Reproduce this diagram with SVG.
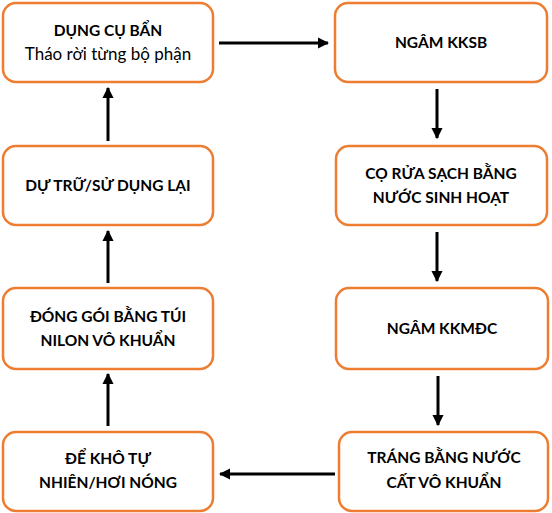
<svg xmlns="http://www.w3.org/2000/svg" width="552" height="513" viewBox="0 0 552 513">
<defs>
<marker id="ah" viewBox="0 0 10 10" refX="9" refY="5" markerWidth="3.8" markerHeight="3.8" markerUnits="strokeWidth" orient="auto">
<path d="M0,0 L10,5 L0,10 z" fill="#000"/>
</marker>
<style>
.box{fill:#fff;stroke:#ED7D31;stroke-width:2.5}
.t{font-family:Lato,"Open Sans","Liberation Sans",sans-serif;font-size:15.5px;font-weight:bold;fill:#000;text-anchor:middle}
.n{font-family:Lato,"Open Sans","Liberation Sans",sans-serif;font-size:17px;fill:#000;text-anchor:middle}
.c{stroke:#000;stroke-width:3;fill:none;marker-end:url(#ah)}
</style>
</defs>
<rect width="552" height="513" fill="#fff"/>
<g id="connectors">
<line class="c" x1="219" y1="43" x2="328" y2="43"/>
<line class="c" x1="437" y1="89" x2="437" y2="138"/>
<line class="c" x1="437" y1="232" x2="437" y2="281"/>
<line class="c" x1="438" y1="376" x2="438" y2="425"/>
<line class="c" x1="335" y1="474" x2="220" y2="474"/>
<line class="c" x1="108" y1="426" x2="108" y2="374"/>
<line class="c" x1="108" y1="283" x2="108" y2="231"/>
<line class="c" x1="108" y1="141" x2="108" y2="88"/>
</g>
<g id="n1"><rect class="box" x="3" y="3" width="210" height="79" rx="13"/>
<text class="t" x="108" y="36">DỤNG CỤ BẨN</text>
<text class="n" x="108" y="60">Tháo rời từng bộ phận</text></g>
<g id="n2"><rect class="box" x="335" y="3" width="212" height="79" rx="13"/>
<text class="t" x="441" y="48">NGÂM KKSB</text></g>
<g id="n3"><rect class="box" x="336" y="146" width="211" height="79" rx="13"/>
<text class="t" x="441" y="179">CỌ RỬA SẠCH BẰNG</text>
<text class="t" x="441" y="203">NƯỚC SINH HOẠT</text></g>
<g id="n4"><rect class="box" x="336" y="288" width="212" height="81" rx="13"/>
<text class="t" x="442" y="334">NGÂM KKMĐC</text></g>
<g id="n5"><rect class="box" x="339" y="432" width="209" height="79" rx="13"/>
<text class="t" x="444" y="463">TRÁNG BẰNG NƯỚC</text>
<text class="t" x="444" y="488">CẤT VÔ KHUẨN</text></g>
<g id="n6"><rect class="box" x="3" y="432" width="210" height="79" rx="13"/>
<text class="t" x="108" y="464">ĐỂ KHÔ TỰ</text>
<text class="t" x="108" y="488">NHIÊN/HƠI NÓNG</text></g>
<g id="n7"><rect class="box" x="3" y="288" width="210" height="81" rx="13"/>
<text class="t" x="108" y="322">ĐÓNG GÓI BẰNG TÚI</text>
<text class="t" x="108" y="346">NILON VÔ KHUẨN</text></g>
<g id="n8"><rect class="box" x="3" y="146" width="210" height="79" rx="13"/>
<text class="t" x="108" y="191">DỰ TRỮ/SỬ DỤNG LẠI</text></g>
</svg>
